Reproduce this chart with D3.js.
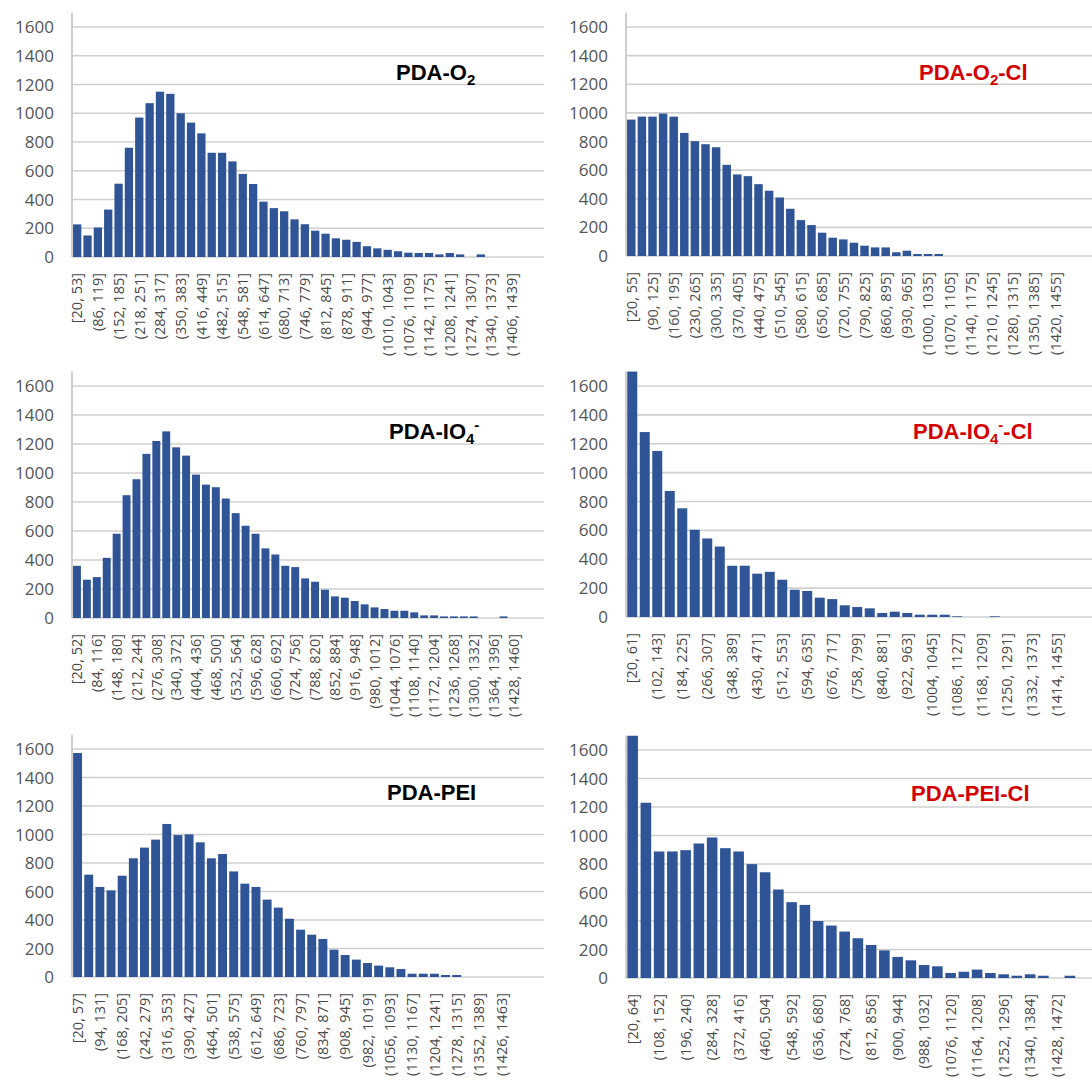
<!DOCTYPE html>
<html>
<head>
<meta charset="utf-8">
<script src="https://cdn.jsdelivr.net/npm/d3@7"></script>
<style>
  body { margin: 0; background: #fff; }
  svg { display: block; }
</style>
</head>
<body>
<svg id="chart" width="1092" height="1086"></svg>
<script>
// bin counts
const pdaO2 = [227, 150, 205, 330, 510, 760, 970, 1070, 1150, 1135, 1000, 935, 860, 725, 725, 665, 578, 508, 385, 340, 318, 262, 228, 183, 162, 130, 120, 105, 75, 60, 50, 40, 30, 28, 28, 18, 28, 18, 0, 18];
const pdaO2Cl = [953, 974, 974, 995, 974, 860, 802, 781, 760, 637, 570, 558, 502, 456, 409, 330, 251, 216, 163, 128, 116, 93, 72, 60, 60, 26, 37, 14, 14, 14];
const pdaIO4 = [360, 264, 282, 415, 581, 847, 957, 1132, 1221, 1287, 1177, 1120, 989, 920, 902, 824, 723, 636, 581, 480, 438, 360, 351, 273, 250, 195, 149, 140, 117, 94, 73, 62, 50, 50, 39, 18, 18, 11, 11, 11, 11, 0, 0, 11];
const pdaIO4Cl = [1720, 1281, 1150, 873, 753, 604, 544, 488, 355, 355, 300, 313, 258, 189, 180, 134, 124, 81, 69, 60, 28, 37, 28, 16, 16, 16, 5, 0, 0, 5];
const pdaPEI = [1572, 718, 632, 608, 711, 833, 908, 964, 1074, 996, 1001, 945, 833, 863, 741, 655, 632, 543, 487, 409, 332, 297, 267, 192, 154, 122, 98, 80, 68, 56, 23, 23, 23, 14, 14];
const pdaPEICl = [1730, 1230, 888, 888, 897, 944, 986, 911, 888, 799, 742, 621, 532, 513, 400, 368, 326, 279, 232, 194, 148, 124, 91, 82, 35, 44, 59, 35, 26, 16, 26, 16, 0, 16];

// only every other bin gets a label on the category axis
const labelsO2 = ["[20, 53]", "(86, 119]", "(152, 185]", "(218, 251]", "(284, 317]", "(350, 383]", "(416, 449]", "(482, 515]", "(548, 581]", "(614, 647]", "(680, 713]", "(746, 779]", "(812, 845]", "(878, 911]", "(944, 977]", "(1010, 1043]", "(1076, 1109]", "(1142, 1175]", "(1208, 1241]", "(1274, 1307]", "(1340, 1373]", "(1406, 1439]"];
const labelsO2Cl = ["[20, 55]", "(90, 125]", "(160, 195]", "(230, 265]", "(300, 335]", "(370, 405]", "(440, 475]", "(510, 545]", "(580, 615]", "(650, 685]", "(720, 755]", "(790, 825]", "(860, 895]", "(930, 965]", "(1000, 1035]", "(1070, 1105]", "(1140, 1175]", "(1210, 1245]", "(1280, 1315]", "(1350, 1385]", "(1420, 1455]"];
const labelsIO4 = ["[20, 52]", "(84, 116]", "(148, 180]", "(212, 244]", "(276, 308]", "(340, 372]", "(404, 436]", "(468, 500]", "(532, 564]", "(596, 628]", "(660, 692]", "(724, 756]", "(788, 820]", "(852, 884]", "(916, 948]", "(980, 1012]", "(1044, 1076]", "(1108, 1140]", "(1172, 1204]", "(1236, 1268]", "(1300, 1332]", "(1364, 1396]", "(1428, 1460]"];
const labelsIO4Cl = ["[20, 61]", "(102, 143]", "(184, 225]", "(266, 307]", "(348, 389]", "(430, 471]", "(512, 553]", "(594, 635]", "(676, 717]", "(758, 799]", "(840, 881]", "(922, 963]", "(1004, 1045]", "(1086, 1127]", "(1168, 1209]", "(1250, 1291]", "(1332, 1373]", "(1414, 1455]"];
const labelsPEI = ["[20, 57]", "(94, 131]", "(168, 205]", "(242, 279]", "(316, 353]", "(390, 427]", "(464, 501]", "(538, 575]", "(612, 649]", "(686, 723]", "(760, 797]", "(834, 871]", "(908, 945]", "(982, 1019]", "(1056, 1093]", "(1130, 1167]", "(1204, 1241]", "(1278, 1315]", "(1352, 1389]", "(1426, 1463]"];
const labelsPEICl = ["[20, 64]", "(108, 152]", "(196, 240]", "(284, 328]", "(372, 416]", "(460, 504]", "(548, 592]", "(636, 680]", "(724, 768]", "(812, 856]", "(900, 944]", "(988, 1032]", "(1076, 1120]", "(1164, 1208]", "(1252, 1296]", "(1340, 1384]", "(1428, 1472]"];

const yTicks = [0, 200, 400, 600, 800, 1000, 1200, 1400, 1600];

const black = "#000";
const red = "#d40000";

const panels = [
    { values: pdaO2, labels: labelsO2, x0: 72, right: 544, y0: 257, y1600: 27, pitch: 10.35,
      title: [["PDA-O"], ["2", "sub"]], color: black, tx: 396, ty: 80 },
    { values: pdaO2Cl, labels: labelsO2Cl, x0: 626, right: 1092, y0: 256, y1600: 27, pitch: 10.6,
      title: [["PDA-O"], ["2", "sub"], ["-Cl"]], color: red, tx: 919, ty: 80 },
    { values: pdaIO4, labels: labelsIO4, x0: 72, right: 544, y0: 618, y1600: 386, pitch: 9.92,
      title: [["PDA-IO"], ["4", "sub"], ["-", "sup"]], color: black, tx: 389, ty: 439 },
    { values: pdaIO4Cl, labels: labelsIO4Cl, x0: 626, right: 1092, y0: 617, y1600: 386, pitch: 12.5,
      title: [["PDA-IO"], ["4", "sub"], ["-", "sup"], ["-Cl"]], color: red, tx: 913, ty: 439 },
    { values: pdaPEI, labels: labelsPEI, x0: 72, right: 544, y0: 977, y1600: 749, pitch: 11.15,
      title: [["PDA-PEI"]], color: black, tx: 387, ty: 800 },
    { values: pdaPEICl, labels: labelsPEICl, x0: 626, right: 1092, y0: 978, y1600: 750, pitch: 13.25,
      title: [["PDA-PEI-Cl"]], color: red, tx: 911, ty: 801 }
];

const svg = d3.select("#chart");

panels.forEach((p) => {
    let g = svg.append("g");
    let nBins = p.labels.length * 2;
    let perUnit = (p.y0 - p.y1600) / 1600;

    let x = d3.scaleBand()
        .domain(d3.range(nBins))
        .range([p.x0, p.x0 + nBins * p.pitch])
        .paddingInner(0.2)
        .paddingOuter(0.1);

    let y = d3.scaleLinear()
        .domain([0, 1700])
        .range([p.y0, p.y0 - 1700 * perUnit])
        .clamp(true);

    // gridlines
    g.selectAll("line.grid")
        .data(yTicks)
        .join("line")
        .attr("x1", p.x0)
        .attr("x2", p.right)
        .attr("y1", (d) => y(d))
        .attr("y2", (d) => y(d))
        .attr("stroke", "#d0d0d0")
        .attr("stroke-width", 1.6);

    // y axis line
    g.append("line")
        .attr("x1", p.x0)
        .attr("x2", p.x0)
        .attr("y1", y(1700))
        .attr("y2", y(0))
        .attr("stroke", "#c4c4c4")
        .attr("stroke-width", 1.6);

    g.selectAll("text.ytick")
        .data(yTicks)
        .join("text")
        .attr("x", p.x0 - 18)
        .attr("y", (d) => y(d))
        .attr("dy", "0.36em")
        .attr("text-anchor", "end")
        .attr("font-family", "Open Sans, sans-serif")
        .attr("font-size", 17)
        .attr("fill", "#555")
        .text((d) => d);

    g.selectAll("rect")
        .data(p.values)
        .join("rect")
        .attr("x", (d, i) => x(i))
        .attr("width", x.bandwidth())
        .attr("y", (d) => y(d))
        .attr("height", (d) => y(0) - y(d))
        .attr("fill", "#2f5597");

    g.selectAll("text.xlab")
        .data(p.labels)
        .join("text")
        .attr("transform", (d, i) => `translate(${x(i * 2) + x.bandwidth() / 2},${p.y0 + 16}) rotate(-90)`)
        .attr("dy", "0.36em")
        .attr("text-anchor", "end")
        .attr("font-family", "Open Sans, sans-serif")
        .attr("font-size", 14.5)
        .attr("fill", "#4a4a4a")
        .text((d) => d);

    let title = g.append("text")
        .attr("x", p.tx)
        .attr("y", p.ty)
        .attr("font-family", "Liberation Sans, Arial, sans-serif")
        .attr("font-weight", "bold")
        .attr("font-size", 22)
        .attr("fill", p.color);

    let shift = 0;
    p.title.forEach(([t, kind]) => {
        let span = title.append("tspan").text(t);
        let target = kind === "sub" ? 5 : kind === "sup" ? -9 : 0;
        if (kind) span.attr("font-size", 15);
        if (target !== shift) span.attr("dy", target - shift);
        shift = target;
    });
});
</script>
</body>
</html>
